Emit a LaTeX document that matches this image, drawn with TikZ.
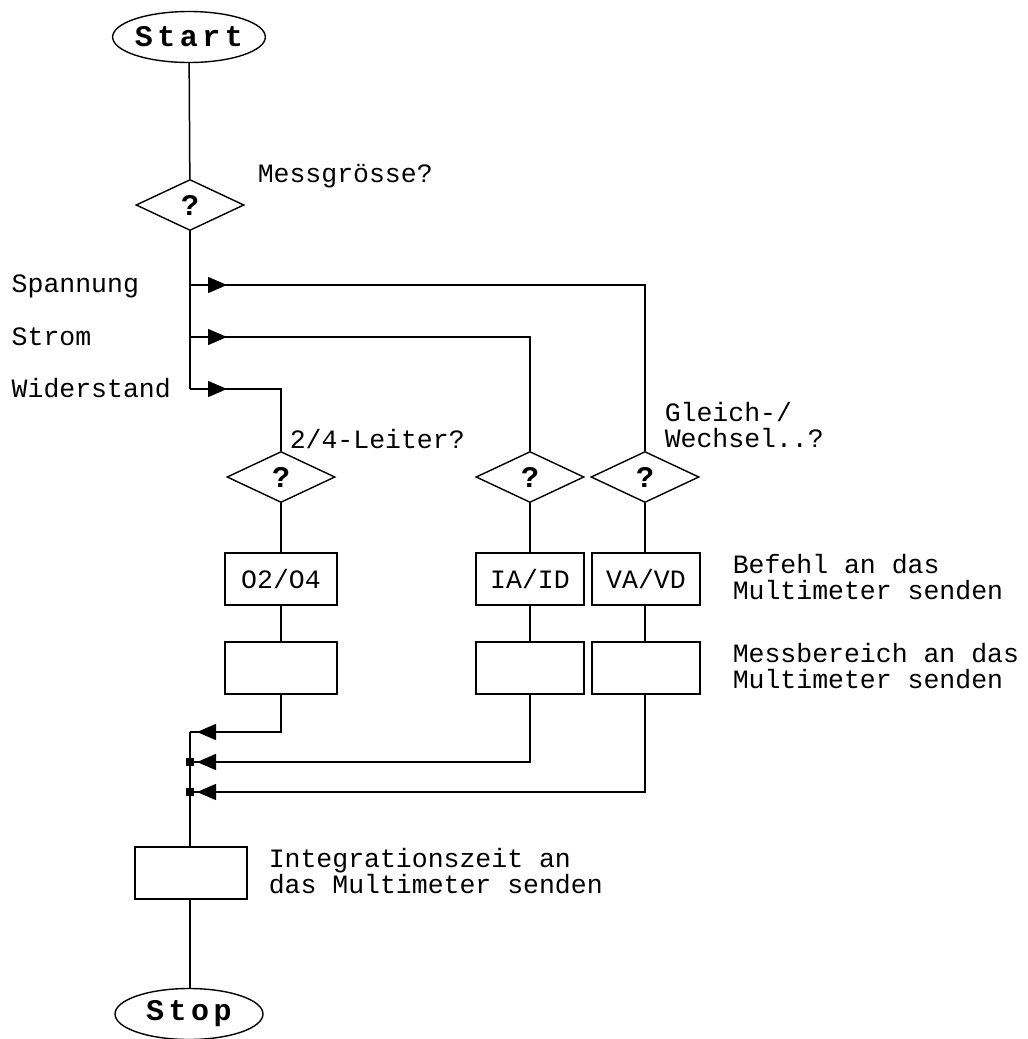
\documentclass[tikz,border=0pt]{standalone}
\usepackage{fontspec}
\newfontfamily\mono{Liberation Mono}
\newfontfamily\monobold{Liberation Mono Bold}[LetterSpace=15]
\usetikzlibrary{shapes.geometric,arrows.meta,decorations.markings}
\begin{document}
\begin{tikzpicture}[x=1pt,y=-1pt,
  line width=1.5pt,
  every node/.style={inner sep=0pt},
  term/.style={ellipse,draw,line width=1.4pt,minimum width=148pt,minimum height=51pt,font=\monobold\fontsize{30}{30}\selectfont},
  decision/.style={diamond,draw,line width=1.4pt,minimum width=108pt,minimum height=51pt,font=\monobold\fontsize{30}{30}\selectfont},
  proc/.style={rectangle,draw,line width=1.5pt,minimum height=52pt,font=\mono\fontsize{26.5}{26}\selectfont},
  lbl/.style={anchor=base west,align=left,font=\mono\fontsize{26.5}{26}\selectfont},
  arrR/.style={postaction={decorate},decoration={markings,mark=at position 37pt with {\arrow{Triangle[length=19pt,width=16pt]}}}},
  arrL/.style={postaction={decorate},decoration={markings,mark=at position -7pt with {\arrow{Triangle[length=19pt,width=16pt]}}}},
  dot/.style={fill,rectangle,minimum size=8pt}
]
\useasboundingbox (0,0) rectangle (1028,1039);

% nodes
\node[term] (start) at (189,37) {Start};
\node[decision] (d1) at (190,205) {?};
\node[lbl] (tmess) at (257,182) {Messgrösse?};

\coordinate (j1) at (190,285);
\coordinate (j2) at (190,337);
\coordinate (cw) at (190,389);

\node[lbl] (tsp) at (11,292) {Spannung};
\node[lbl] (tst) at (11,345) {Strom};
\node[lbl] (twi) at (11,397) {Widerstand};

\node[decision] (d2) at (281,477) {?};
\node[decision] (d3) at (530,477) {?};
\node[decision] (d4) at (645,477) {?};
\node[lbl] (tleiter) at (289,448) {2/4-Leiter?};
\node[lbl] (tgw) at (664,447) {Gleich-/\\Wechsel..?};

\node[proc,minimum width=112pt] (b1) at (281,579) {O2/O4};
\node[proc,minimum width=108pt] (b2) at (530,579) {IA/ID};
\node[proc,minimum width=108pt] (b3) at (646,579) {VA/VD};
\node[lbl] (tbef) at (732,599) {Befehl an das\\Multimeter senden};

\node[proc,minimum width=112pt] (c1) at (281,668) {};
\node[proc,minimum width=108pt] (c2) at (530,668) {};
\node[proc,minimum width=108pt] (c3) at (646,668) {};
\node[lbl] (tmb) at (732,688) {Messbereich an das\\Multimeter senden};

\coordinate (m1) at (190,732);
\node[dot] (m2) at (190,762) {};
\node[dot] (m3) at (190,792) {};

\node[proc,minimum width=112pt] (integ) at (191,873) {};
\node[lbl] (tint) at (268,893) {Integrationszeit an\\das Multimeter senden};

\node[term] (stop) at (189,1014) {Stop};

% connectors
\draw (start) -- (d1);
\draw (d1.south) -- (cw);
\draw[arrR] (j1) -- (645,285) -- (d4.north);
\draw[arrR] (j2) -- (530,337) -- (d3.north);
\draw[arrR] (cw) -- (281,389) -- (d2.north);

\draw (d2) -- (b1);
\draw (d3) -- (b2);
\draw (d4) -- (b3.north -| d4);
\draw (b1) -- (c1);
\draw (b2) -- (c2);
\draw (b3.south -| d4) -- (c3.north -| d4);

\draw[arrL] (c1.south) -- (281,732) -- (m1);
\draw[arrL] (c2.south) -- (530,762) -- (m2.center);
\draw[arrL] (c3.south -| d4) -- (645,792) -- (m3.center);
\draw (m1) -- (integ.north -| m1);
\draw (integ.south -| m1) -- (stop.north -| m1);
\end{tikzpicture}
\end{document}
